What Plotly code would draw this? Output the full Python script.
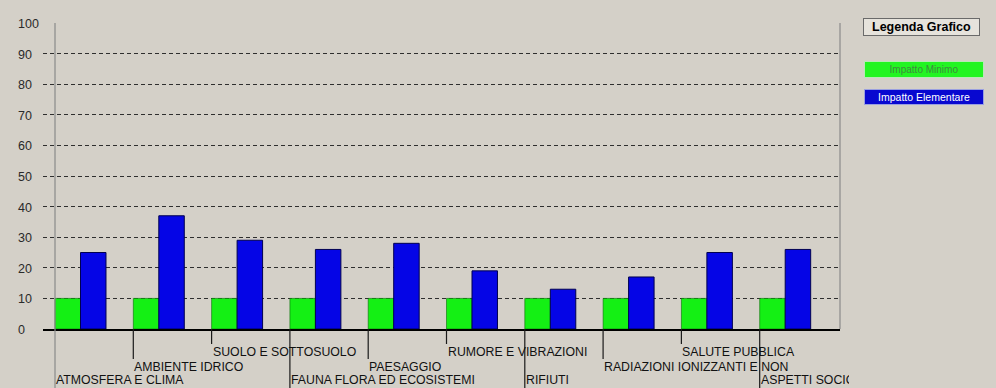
import plotly.graph_objects as go

# ---------------- data ----------------
categories = [
    "ATMOSFERA E CLIMA",
    "AMBIENTE IDRICO",
    "SUOLO E SOTTOSUOLO",
    "FAUNA FLORA ED ECOSISTEMI",
    "PAESAGGIO",
    "RUMORE E VIBRAZIONI",
    "RIFIUTI",
    "RADIAZIONI IONIZZANTI E NON",
    "SALUTE PUBBLICA",
    "ASPETTI SOCIO-ECONOMICI",
]
impatto_minimo = [10, 10, 10, 10, 10, 10, 10, 10, 10, 10]
impatto_elementare = [25, 37, 29, 26, 28, 19, 13, 17, 25, 26]
series_names = ["Impatto Minimo", "Impatto Elementare"]
y_ticks = [0, 10, 20, 30, 40, 50, 60, 70, 80, 90, 100]
legend_title = "Legenda Grafico"
label_levels = [2, 1, 0, 2, 1, 0, 2, 1, 0, 2]

# ---------------- styling ----------------
W, H = 996, 388
ML, MR, MT, MB = 43, 156, 23, 59
PW, PH = W - ML - MR, H - MT - MB
BG = "#d4d0c8"
GREEN = "#14f014"
BLUE = "#0505e6"
FONT = "Liberation Sans, Arial, sans-serif"

n = len(categories)
x_idx = list(range(n))
bar_half = 25.5 / 78.3  # offset from group centre to group's left edge (in category units)
x_range = [-0.479, 9.70]


def py_to_paper(py):
    return (H - MB - py) / PH


fig = go.Figure()
fig.add_trace(go.Bar(
    x=x_idx, y=impatto_minimo, name=series_names[0],
    marker=dict(color=GREEN, line=dict(color="#0a6a0a", width=0.6)),
    showlegend=False,
))
fig.add_trace(go.Bar(
    x=x_idx, y=impatto_elementare, name=series_names[1],
    marker=dict(color=BLUE, line=dict(color="#000050", width=1)),
    showlegend=False,
))

shapes = []
annotations = []

# y-axis (grey vertical line at first group's left edge)
shapes.append(dict(type="line", xref="x", yref="y", x0=-bar_half, x1=-bar_half,
                   y0=0, y1=100, line=dict(color="#8a8a8a", width=1.2), layer="above"))
# right border
shapes.append(dict(type="line", xref="paper", yref="y", x0=1, x1=1, y0=0, y1=100,
                   line=dict(color="#8a8a8a", width=1.2), layer="above"))

# category tick lines and staggered labels
text_centers = {0: 352, 1: 367, 2: 379.5}
line_ends = {0: 344, 1: 359, 2: 395}
for i, (cat, lvl) in enumerate(zip(categories, label_levels)):
    xl = i - bar_half
    col = "#8a8a8a" if i == 0 else "#1a1a1a"
    shapes.append(dict(type="line", xref="x", yref="paper", x0=xl, x1=xl,
                       y0=0, y1=py_to_paper(line_ends[lvl]),
                       line=dict(color=col, width=1.2)))
    ann = dict(x=xl, y=py_to_paper(text_centers[lvl]), xref="x", yref="paper",
               text=cat, showarrow=False, xanchor="left", yanchor="middle",
               xshift=-1, font=dict(family=FONT, size=12.3, color="#111111"),
               align="left")
    if i == n - 1:
        ann["width"] = 88
    annotations.append(ann)

# y tick labels (left aligned)
for v in y_ticks:
    annotations.append(dict(x=0, y=v, xref="paper", yref="y", text=str(v),
                            showarrow=False, xanchor="left", yanchor="middle",
                            xshift=-27, yshift=-1,
                            font=dict(family=FONT, size=12.5, color="#2a2a2a")))

# legend block
def pxx(px):
    return (px - ML) / PW


annotations.append(dict(x=pxx(863), y=py_to_paper(27), xref="paper", yref="paper",
                        text="<b>%s</b>" % legend_title, showarrow=False,
                        xanchor="left", yanchor="middle", width=115, height=16,
                        bgcolor="#e6e3dc", bordercolor="#6a6a6a", borderwidth=1,
                        borderpad=0, font=dict(family=FONT, size=12.5, color="#000000")))
annotations.append(dict(x=pxx(864), y=py_to_paper(69.5), xref="paper", yref="paper",
                        text=series_names[0], showarrow=False,
                        xanchor="left", yanchor="middle", width=118, height=15,
                        bgcolor="#22f522", bordercolor="#b8e8b8", borderwidth=1,
                        borderpad=0, font=dict(family=FONT, size=10, color="#3f8a3f")))
annotations.append(dict(x=pxx(864), y=py_to_paper(97), xref="paper", yref="paper",
                        text=series_names[1], showarrow=False,
                        xanchor="left", yanchor="middle", width=118, height=14,
                        bgcolor="#0808d0", bordercolor="#9aa0e0", borderwidth=1,
                        borderpad=0, font=dict(family=FONT, size=10.5, color="#ffffff")))

fig.update_layout(
    width=W, height=H,
    margin=dict(l=ML, r=MR, t=MT, b=MB, pad=0),
    paper_bgcolor=BG, plot_bgcolor=BG,
    barmode="group", bargap=0.349, bargroupgap=0,
    shapes=shapes, annotations=annotations,
    font=dict(family=FONT),
)
fig.update_xaxes(
    type="linear", range=x_range, showticklabels=False, showgrid=False,
    zeroline=False, showline=True, linecolor="#000000", linewidth=2,
    ticks="", fixedrange=True,
)
fig.update_yaxes(
    range=[0, 100], tickvals=y_ticks, showticklabels=False,
    showgrid=True, gridcolor="#2e2e2e", gridwidth=1, griddash="4px,3px",
    zeroline=False, showline=False, ticks="", fixedrange=True,
)

fig.write_html("out.html", config={"displayModeBar": False})
